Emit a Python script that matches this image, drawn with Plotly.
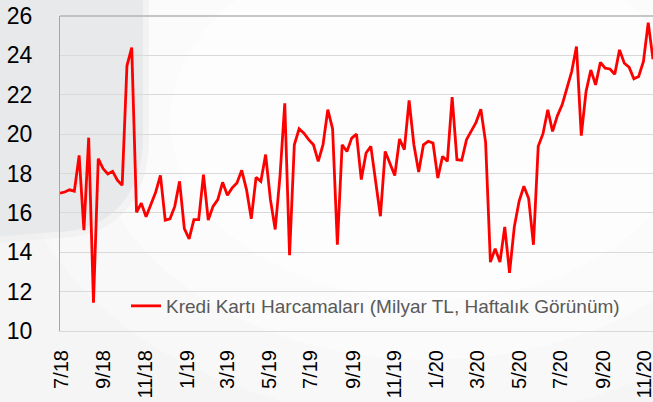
import pandas as pd
import plotly.graph_objects as go

# Weekly credit card spending (billion TL), weeks starting 2018-06-29
start_date = "2018-06-29"
values = [
    17.0, 17.06, 17.17, 17.1, 18.92, 15.12, 19.82, 11.44, 18.75, 18.25,
    17.98, 18.11, 17.66, 17.4, 23.47, 24.4, 16.03, 16.49, 15.8, 16.46,
    17.05, 17.9, 15.63, 15.7, 16.33, 17.6, 15.2, 14.68, 15.66, 15.66,
    17.94, 15.63, 16.33, 16.67, 17.55, 16.9, 17.27, 17.52, 18.16, 17.18,
    15.7, 17.8, 17.6, 18.96, 16.67, 15.16, 17.86, 21.57, 13.85, 19.46,
    20.27, 20.05, 19.72, 19.46, 18.62, 19.46, 21.24, 20.27, 14.38, 19.46,
    19.12, 19.8, 20.0, 17.69, 19.04, 19.38, 17.6, 15.83, 19.12, 18.53,
    17.9, 19.75, 19.21, 21.71, 19.46, 18.08, 19.46, 19.63, 19.55, 17.77,
    18.87, 18.62, 21.88, 18.7, 18.67, 19.72, 20.14, 20.6, 21.27, 19.58,
    13.5, 14.18, 13.5, 15.29, 12.96, 15.29, 16.59, 17.35, 16.73, 14.38,
    19.38, 20.02, 21.24, 20.14, 20.93, 21.49, 22.33, 23.18, 24.45, 19.92,
    22.17, 23.26, 22.5, 23.65, 23.35, 23.31, 23.04, 24.28, 23.6, 23.4,
    22.81, 22.93, 23.69, 25.66, 23.8,
]
dates = pd.date_range(start=start_date, periods=len(values), freq="7D")

tick_dates = ["2018-07-01", "2018-09-01", "2018-11-01", "2019-01-01", "2019-03-01",
              "2019-05-01", "2019-07-01", "2019-09-01", "2019-11-01", "2020-01-01",
              "2020-03-01", "2020-05-01", "2020-07-01", "2020-09-01", "2020-11-01"]
tick_labels = ["7/18", "9/18", "11/18", "1/19", "3/19", "5/19", "7/19", "9/19",
               "11/19", "1/20", "3/20", "5/20", "7/20", "9/20", "11/20"]
y_ticks = [10, 12, 14, 16, 18, 20, 22, 24, 26]
series_name = "Kredi Kartı Harcamaları (Milyar TL, Haftalık Görünüm)"

W, H = 653, 402
ML, MR, MT, MB = 60, 0, 16, 71
PW, PH = W - ML - MR, H - MT - MB


def px(x):
    return (x - ML) / PW


def py(y):
    return (H - MB - y) / PH


fig = go.Figure()
fig.add_trace(go.Scatter(
    x=dates, y=values, mode="lines", name=series_name,
    line=dict(color="#ff0000", width=2.8),
    showlegend=True,
))

shapes = []
# soft light background
for (rx, ry, op) in [(420, 300, 0.35), (340, 240, 0.4), (260, 180, 0.5)]:
    cx, cy = 430, 120
    shapes.append(dict(type="circle", xref="paper", yref="paper",
                       x0=px(cx - rx), x1=px(cx + rx), y0=py(cy + ry), y1=py(cy - ry),
                       fillcolor="white", opacity=op, line=dict(width=0), layer="below"))


def blob(e):
    return (f"M {px(-5)},{py(-5)} L {px(143 + e)},{py(-5)} L {px(143 + e)},{py(137)} "
            f"C {px(143 + e)},{py(195 + e)} {px(110 + e)},{py(232 + e)} {px(55)},{py(232 + e)} "
            f"L {px(-5)},{py(237 + e)} Z")


shapes.append(dict(type="path", xref="paper", yref="paper", path=blob(6),
                   fillcolor="#ebebed", opacity=0.5, line=dict(width=0), layer="below"))
shapes.append(dict(type="path", xref="paper", yref="paper", path=blob(0),
                   fillcolor="#e8e9eb", line=dict(width=0), layer="below"))
# top border line
shapes.append(dict(type="line", xref="paper", yref="paper", x0=0, x1=1, y0=1, y1=1,
                   line=dict(color="#b5b5b5", width=1.5), layer="above"))

fig.update_layout(
    width=W, height=H,
    margin=dict(l=ML, r=MR, t=MT, b=MB, pad=0, autoexpand=False),
    paper_bgcolor="#f5f5f5",
    plot_bgcolor="rgba(0,0,0,0)",
    font=dict(family="Liberation Sans, Arial, sans-serif", color="#000000"),
    shapes=shapes,
    showlegend=True,
    legend=dict(x=px(126), y=py(306), xanchor="left", yanchor="middle",
                bgcolor="rgba(0,0,0,0)", borderwidth=0,
                font=dict(size=19, color="#595959",
                          family="Liberation Sans, Arial, sans-serif")),
    xaxis=dict(
        type="date",
        range=[dates[0], dates[-1]],
        tickvals=tick_dates, ticktext=tick_labels,
        tickangle=-90,
        tickfont=dict(size=20, color="#000000"),
        showgrid=False, zeroline=False,
        showline=True, linecolor="#d9d9d9", linewidth=1,
        ticks="", ticklabelstandoff=10,
        automargin=False, ticklabeloverflow="allow",
    ),
    yaxis=dict(
        range=[10, 26], tickvals=y_ticks,
        tickfont=dict(size=23, color="#000000"),
        showgrid=True, gridcolor="#d9d9d9", gridwidth=1,
        zeroline=False,
        showline=True, linecolor="#a6a6a6", linewidth=1,
        ticks="", ticklabelstandoff=22,
        automargin=False, ticklabeloverflow="allow",
    ),
)

fig.write_html("out.html", config={"displayModeBar": False},
               post_script="document.body.style.margin='0';")
